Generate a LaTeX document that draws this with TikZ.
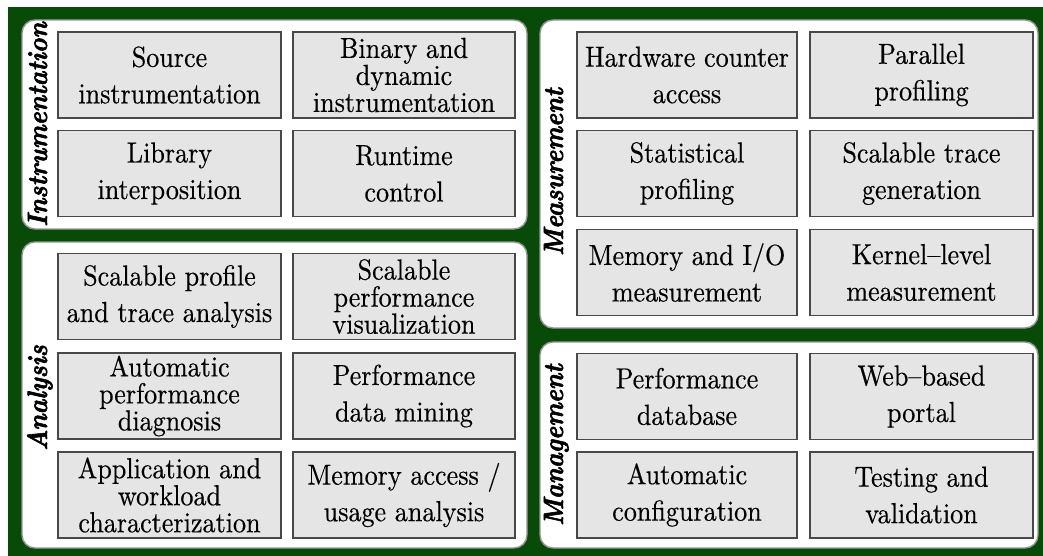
\documentclass[tikz,border=0pt]{standalone}
\usepackage{fontspec}
\setmainfont{lmroman10-regular.otf}[FakeStretch=0.9, FakeBold=0.4]
\newfontfamily\grpfont{lmroman10-bolditalic.otf}[FakeStretch=0.89, FakeBold=2]
\definecolor{bggreen}{RGB}{8,74,8}
\definecolor{boxfill}{RGB}{229,229,229}
\definecolor{boxline}{RGB}{72,72,72}
\definecolor{panelrim}{RGB}{150,150,150}
\begin{document}
\begin{tikzpicture}[x=1pt,y=-1pt,
  panel/.style={fill=white, draw=panelrim, line width=1.4pt, rounded corners=13pt},
  item/.style={draw=boxline, fill=boxfill, line width=1.2pt, align=center,
    text=black, inner sep=0pt, minimum height=86pt,
    font=\fontsize{29}{36.5}\selectfont},
  tight/.style={font=\fontsize{29}{27}\selectfont},
  colA/.style={minimum width=223pt},
  colB/.style={minimum width=222pt},
  colC/.style={minimum width=220pt},
  colD/.style={minimum width=223pt},
  grp/.style={rotate=90, anchor=base, inner sep=0pt,
    font=\grpfont\fontsize{28}{28}\selectfont}]
\useasboundingbox (0,0) rectangle (1043,556);
\fill[white] (0,0) rectangle (1043,556);
\fill[bggreen] (8,7) rectangle (1043,556);

% four white panels
\draw[panel] (22,20) rectangle (527,229);
\draw[panel] (22,242) rectangle (527,548);
\draw[panel] (540,20) rectangle (1038,328);
\draw[panel] (540,342) rectangle (1038,548);

% group titles
\node[grp] (tInstr) at (47,124.5) {Instrumentation};
\node[grp] (tAnal)  at (47,398) {Analysis};
\node[grp] (tMeas)  at (563,172) {Measurement};
\node[grp] (tMgmt)  at (563,445) {Management};

% Instrumentation
\node[item,colA] (src) at (169.5,75) {Source\\instrumentation};
\node[item,colB,tight] (bin) at (404,75) {Binary and\\dynamic\\instrumentation};
\node[item,colA] (lib) at (169.5,173.5) {Library\\interposition};
\node[item,colB] (rtc) at (404,173.5) {Runtime\\control};

% Analysis
\node[item,colA] (spt) at (169.5,296.5) {Scalable profile\\and trace analysis};
\node[item,colB,tight] (spv) at (404,296.5) {Scalable\\performance\\visualization};
\node[item,colA,tight] (apd) at (169.5,396) {Automatic\\performance\\diagnosis};
\node[item,colB] (pdm) at (404,396) {Performance\\data mining};
\node[item,colA,tight] (awc) at (169.5,495) {Application and\\workload\\characterization};
\node[item,colB] (mau) at (404,495) {Memory access /\\usage analysis};

% Measurement
\node[item,colC] (hca) at (687,75) {Hardware counter\\access};
\node[item,colD] (ppr) at (921.5,75) {Parallel\\profiling};
\node[item,colC] (stp) at (687,173.5) {Statistical\\profiling};
\node[item,colD] (stg) at (921.5,173.5) {Scalable trace\\generation};
\node[item,colC] (mio) at (687,272.5) {Memory and I/O\\measurement};
\node[item,colD] (klm) at (921.5,272.5) {Kernel{\char"2013}level\\measurement};

% Management
\node[item,colC] (pdb) at (687,396.5) {Performance\\database};
\node[item,colD] (wbp) at (921.5,396.5) {Web{\char"2013}based\\portal};
\node[item,colC] (acf) at (687,495) {Automatic\\configuration};
\node[item,colD] (tav) at (921.5,495) {Testing and\\validation};
\end{tikzpicture}
\end{document}
